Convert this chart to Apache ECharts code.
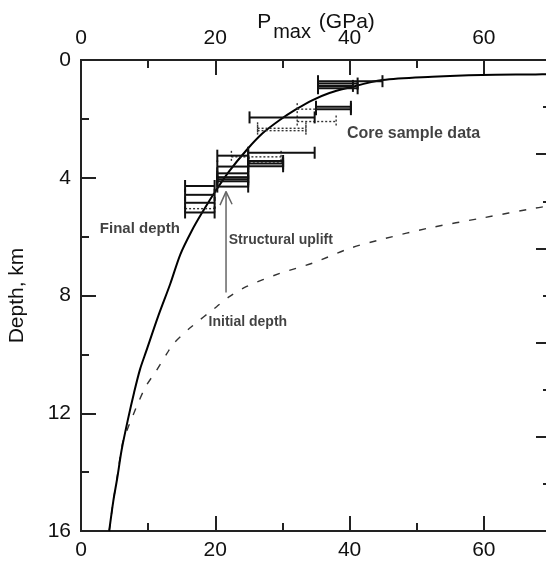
<!DOCTYPE html>
<html>
<head>
<meta charset="utf-8">
<script src="https://cdn.jsdelivr.net/npm/echarts@6/dist/echarts.min.js"></script>
<style>
html,body{margin:0;padding:0;background:#fff;}
#chart{width:546px;height:561px;}
</style>
</head>
<body>
<div id="chart"></div>
<script>
// ---- Data ----
// Final depth curve (solid): P (GPa) vs depth (km)
var finalP  = [4.2, 4.8, 5.4, 6.05, 7.0, 7.9, 8.8, 9.7, 11.5, 13.3, 14.8, 16.5, 18.0, 19.9, 22.0, 24.7, 27.0, 29.6, 32.0, 34.5, 37.0, 39.5, 44.9, 52.3, 59.7, 67.7, 70];
var finalD  = [16, 15.0, 14.2, 13.25, 12.2, 11.3, 10.5, 9.9, 8.7, 7.6, 6.6, 5.8, 5.2, 4.5, 3.8, 3.05, 2.5, 2.04, 1.68, 1.36, 1.12, 0.96, 0.68, 0.57, 0.51, 0.49, 0.48];
// Initial depth curve (dashed)
var initP = [4.2, 4.8, 5.5, 6.2, 6.9, 7.7, 8.6, 9.7, 11.2, 12.8, 13.8, 16.4, 20.2, 22.1, 24.6, 29.6, 34.5, 40.0, 45.0, 52.0, 59.7, 67.7, 70];
var initD = [16, 15.0, 14.0, 13.0, 12.55, 12.1, 11.6, 11.07, 10.56, 9.97, 9.63, 9.07, 8.38, 8.04, 7.7, 7.25, 6.9, 6.4, 6.08, 5.7, 5.37, 5.03, 4.95];
// Core sample ranges (solid bars): Pmin, Pmax, depth
var barLow   = [35.3, 35.3, 35.3, 35.3, 35.0, 35.0, 25.1, 24.9, 20.3, 20.3, 20.3, 20.3, 20.3, 20.3, 20.3, 24.9, 24.9, 24.9, 15.5, 15.5, 15.5, 15.5];
var barHigh  = [44.9, 41.2, 40.5, 41.2, 40.2, 40.2, 34.8, 34.8, 24.9, 24.9, 24.9, 24.9, 24.9, 24.9, 24.9, 30.1, 30.1, 30.1, 19.9, 19.9, 19.9, 19.9];
var barDepth = [0.72, 0.80, 0.88, 0.96, 1.59, 1.67, 1.95, 3.15, 3.25, 3.62, 3.85, 3.98, 4.05, 4.12, 4.30, 3.43, 3.52, 3.61, 4.28, 4.58, 4.85, 5.18];
// Core sample ranges (dotted bars)
var dotLow   = [32.2, 32.2, 26.3, 26.3, 22.4, 25.0, 15.5];
var dotHigh  = [35.0, 38.0, 33.5, 33.5, 29.8, 30.0, 19.9];
var dotDepth = [1.67, 2.09, 2.32, 2.40, 3.29, 3.50, 5.05];
// Structural uplift arrow
var arrowP = [21.6, 21.6];
var arrowD = [7.9, 4.47];
var headP = [20.7, 21.6, 22.5];
var headD = [4.93, 4.47, 4.90];
// Annotations
var annText = ['Core sample data', 'Final depth', 'Structural uplift', 'Initial depth'];
var annP    = [39.6, 2.8, 22.0, 19.0];
var annD    = [2.50, 5.74, 6.12, 8.92];
var annSize = [16, 15, 14, 14];
// Axis ticks
var xTicksMajor = 20, xTicksMinor = 10, xMax = 70;
var yMax = 16, yInterval = 4;

function zip(a, b) { return a.map(function (v, i) { return [v, b[i]]; }); }
function bars(lo, hi, d) { return lo.map(function (v, i) { return [v, hi[i], d[i]]; }); }

var FONT = 'Liberation Sans, Arial, Helvetica, sans-serif';
var AX = '#222';
var LBL = 21;

function xAxisDef(pos, interval, tickLen, showLabel) {
  return {
    type: 'value', position: pos, min: 0, max: xMax, interval: interval,
    axisLine: { show: true, onZero: false, lineStyle: { color: AX, width: 2 } },
    axisTick: { show: true, inside: true, length: tickLen, lineStyle: { color: AX, width: 2 } },
    splitLine: { show: false },
    axisLabel: { show: showLabel, fontSize: LBL, color: '#111', fontFamily: FONT, margin: pos === 'top' ? 11 : 9, showMaxLabel: false }
  };
}

function makeBarRender(dashed) {
  return function (params, api) {
    var y = api.coord([0, api.value(2)])[1];
    var x1 = api.coord([api.value(0), 0])[0];
    var x2 = api.coord([api.value(1), 0])[0];
    var st = dashed ? { stroke: '#333', lineWidth: 1.4, lineDash: [2, 2] } : { stroke: '#111', lineWidth: 2 };
    var cap = 6;
    return {
      type: 'group',
      children: [
        { type: 'line', shape: { x1: x1, y1: y, x2: x2, y2: y }, style: st },
        { type: 'line', shape: { x1: x1, y1: y - cap, x2: x1, y2: y + cap }, style: st },
        { type: 'line', shape: { x1: x2, y1: y - cap, x2: x2, y2: y + cap }, style: st }
      ]
    };
  };
}

var chart = echarts.init(document.getElementById('chart'), null, { renderer: 'canvas' });
chart.setOption({
  animation: false,
  backgroundColor: '#fff',
  grid: { left: 81, top: 60, width: 470, height: 471, containLabel: false, outerBoundsMode: 'none' },
  xAxis: [
    xAxisDef('bottom', xTicksMajor, 15, true),
    Object.assign(xAxisDef('top', xTicksMajor, 15, true), {
      name: '{p|P}{s|max}{p| (GPa)}',
      nameLocation: 'middle', nameGap: 18, nameMoveOverlap: false,
      nameTextStyle: {
        rich: {
          p: { fontSize: 21, fontFamily: FONT, color: '#111', verticalAlign: 'top' },
          s: { fontSize: 20, fontFamily: FONT, color: '#111', padding: [10, 2, 0, 2] }
        }
      }
    }),
    xAxisDef('bottom', xTicksMinor, 8, false),
    xAxisDef('top', xTicksMinor, 8, false)
  ],
  yAxis: [
    {
      type: 'value', position: 'left', inverse: true, min: 0, max: yMax, interval: yInterval,
      name: 'Depth, km', nameLocation: 'middle', nameGap: 53, nameRotate: 90, nameMoveOverlap: false,
      nameTextStyle: { fontSize: 21, fontFamily: FONT, color: '#111' },
      axisLine: { show: true, onZero: false, lineStyle: { color: AX, width: 2 } },
      axisTick: { show: true, inside: true, length: 15, lineStyle: { color: AX, width: 2 } },
      minorTick: { show: true, splitNumber: 2, length: 8, lineStyle: { color: AX, width: 2 } },
      splitLine: { show: false }, minorSplitLine: { show: false },
      axisLabel: { fontSize: LBL, color: '#111', fontFamily: FONT, margin: 10 }
    },
    {
      type: 'value', position: 'right', inverse: true, min: 0, max: 5, interval: 1,
      axisLine: { show: true, onZero: false, lineStyle: { color: AX, width: 2 } },
      axisTick: { show: true, inside: true, length: 15, lineStyle: { color: AX, width: 2 } },
      minorTick: { show: true, splitNumber: 2, length: 8, lineStyle: { color: AX, width: 2 } },
      splitLine: { show: false }, minorSplitLine: { show: false },
      axisLabel: { show: false }
    }
  ],
  series: [
    {
      type: 'line', name: 'Initial depth', data: zip(initP, initD), showSymbol: false, smooth: 0.3,
      lineStyle: { color: '#333', width: 1.4, type: [7, 10] }, z: 2
    },
    {
      type: 'line', name: 'Final depth', data: zip(finalP, finalD), showSymbol: false, smooth: 0.3,
      lineStyle: { color: '#000', width: 2 }, z: 3
    },
    {
      type: 'custom', name: 'Core dotted', renderItem: makeBarRender(true),
      data: bars(dotLow, dotHigh, dotDepth), encode: { x: [0, 1], y: 2 }, z: 4, clip: false
    },
    {
      type: 'custom', name: 'Core sample data', renderItem: makeBarRender(false),
      data: bars(barLow, barHigh, barDepth), encode: { x: [0, 1], y: 2 }, z: 5, clip: false
    },
    {
      type: 'line', name: 'uplift', data: zip(arrowP, arrowD), showSymbol: false,
      lineStyle: { color: '#666', width: 1.5 }, z: 6
    },
    {
      type: 'line', name: 'uplift head', data: zip(headP, headD), showSymbol: false,
      lineStyle: { color: '#666', width: 1.5 }, z: 6
    },
    {
      type: 'scatter', name: 'labels', symbolSize: 0, z: 7,
      data: annText.map(function (t, i) {
        return { value: [annP[i], annD[i]], name: t, label: { fontSize: annSize[i] } };
      }),
      label: {
        show: true, position: 'right', distance: 0, formatter: '{b}',
        fontSize: 14, fontWeight: 'bold', fontFamily: FONT, color: '#111'
      }
    }
  ]
});
</script>
</body>
</html>
